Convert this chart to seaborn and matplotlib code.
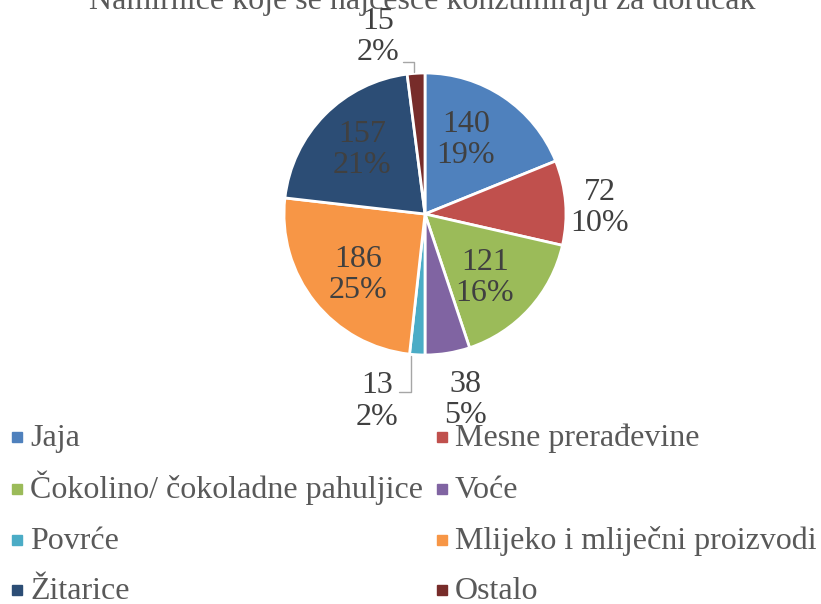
import seaborn as sns
import matplotlib.pyplot as plt
from matplotlib.lines import Line2D

# data
categories = ['Jaja', 'Mesne prerađevine', 'Čokolino/ čokoladne pahuljice', 'Voće',
              'Povrće', 'Mlijeko i mliječni proizvodi', 'Žitarice', 'Ostalo']
counts = [140, 72, 121, 38, 13, 186, 157, 15]
title = 'Namirnice koje se najčešće konzumiraju za doručak'

palette = ['#4F81BD', '#C0504D', '#9BBB59', '#8064A2',
           '#4BACC6', '#F79646', '#2C4D75', '#772C2A']

# label centres (pie radius = 1)
label_xy = [(0.29, 0.525), (1.24, 0.045), (0.425, -0.455), (0.29, -1.32),
            (-0.34, -1.33), (-0.475, -0.435), (-0.447, 0.454), (-0.333, 1.258)]

W, H = 821, 604

sns.set_theme(style='white')
plt.rcParams['font.family'] = ['Liberation Serif', 'DejaVu Serif']

fig = plt.figure(figsize=(W / 100, H / 100), dpi=100)
ax = fig.add_axes([284/W, 1 - 355/H, 282/W, 282/H])

colors = sns.color_palette(palette)
wedges, _ = ax.pie(counts, colors=colors, startangle=90, counterclock=False,
                   wedgeprops=dict(edgecolor='white', linewidth=2))
ax.set_xlim(-1, 1)
ax.set_ylim(-1, 1)
ax.set_aspect('equal')

total = sum(counts)
txt_col = '#404040'
for v, (x, y) in zip(counts, label_xy):
    ax.text(x, y, f'{v}\n{round(v / total * 100)}%', ha='center', va='center',
            fontsize=23, color=txt_col, linespacing=1.1)

# leader lines for the two thinnest slices
ax.plot([-0.156, -0.078, -0.078], [1.078, 1.078, 1.007], color='#A6A6A6', lw=1, clip_on=False)
ax.plot([-0.184, -0.099, -0.099], [-1.262, -1.262, -1.007], color='#A6A6A6', lw=1, clip_on=False)

fig.text(422/W, 1 - 9/H, title, ha='center', va='baseline',
         fontsize=23, color='#595959')

# legend, two columns filled row by row (rows kept on a fixed grid)
col_x = [17, 442]
row_y = [437, 489, 540, 590]
for i, (name, c) in enumerate(zip(categories, colors)):
    x = col_x[i % 2]
    y = row_y[i // 2]
    fig.add_artist(Line2D([x / W], [1 - y / H], marker='s', markersize=7.5, ls='none',
                          markerfacecolor=c, markeredgecolor=c,
                          transform=fig.transFigure))
    fig.text((x + 13) / W, 1 - (y + 9) / H, name, ha='left', va='baseline',
             fontsize=23, color='#595959')

fig.savefig('out.png', dpi=100)
